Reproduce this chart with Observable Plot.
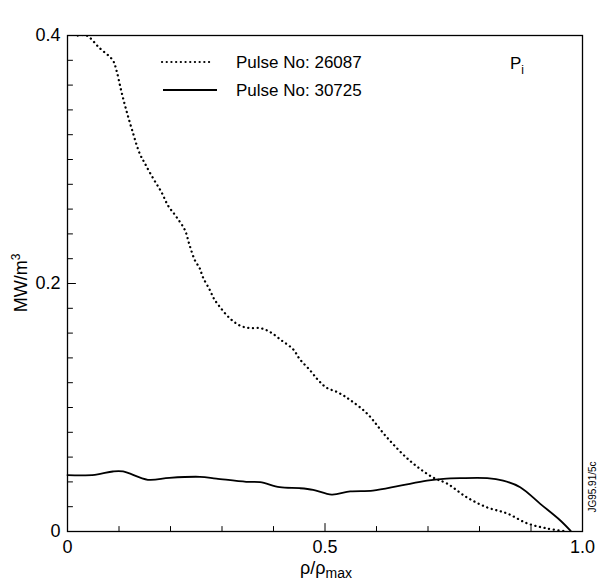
<!DOCTYPE html>
<html>
<head>
<meta charset="utf-8">
<script src="https://cdn.jsdelivr.net/npm/d3@7"></script>
<script src="https://cdn.jsdelivr.net/npm/@observablehq/plot@0.6"></script>
<style>
  html, body { margin: 0; padding: 0; background: #fff; }
  #chart svg { display: block; }
</style>
</head>
<body>
<div id="chart"></div>
<script>
// Pulse No: 26087 (dotted)
const pulse26087X = [0.02, 0.037, 0.062, 0.088, 0.095, 0.104, 0.114, 0.126, 0.140, 0.150, 0.166, 0.182, 0.195, 0.211, 0.228, 0.237, 0.247, 0.257, 0.263, 0.276, 0.284, 0.296, 0.315, 0.335, 0.354, 0.374, 0.393, 0.416, 0.438, 0.451, 0.471, 0.487, 0.503, 0.526, 0.549, 0.582, 0.620, 0.665, 0.710, 0.737, 0.776, 0.815, 0.854, 0.893, 0.932, 0.970];
const pulse26087Y = [0.400, 0.400, 0.390, 0.380, 0.372, 0.356, 0.340, 0.323, 0.305, 0.297, 0.285, 0.274, 0.263, 0.254, 0.243, 0.231, 0.219, 0.212, 0.205, 0.195, 0.188, 0.181, 0.172, 0.166, 0.164, 0.164, 0.161, 0.154, 0.147, 0.139, 0.130, 0.122, 0.116, 0.112, 0.106, 0.095, 0.076, 0.057, 0.0435, 0.0387, 0.0274, 0.0194, 0.0145, 0.0065, 0.0024, 0.0];
// Pulse No: 30725 (solid)
const pulse30725X = [0.0, 0.053, 0.088, 0.108, 0.156, 0.198, 0.257, 0.289, 0.347, 0.374, 0.412, 0.451, 0.477, 0.513, 0.549, 0.593, 0.646, 0.698, 0.730, 0.763, 0.815, 0.846, 0.879, 0.918, 0.957, 0.977];
const pulse30725Y = [0.0455, 0.0457, 0.0484, 0.0484, 0.0417, 0.0433, 0.0441, 0.0427, 0.0401, 0.0398, 0.0357, 0.0349, 0.0336, 0.0298, 0.0323, 0.0330, 0.0370, 0.0410, 0.0425, 0.0430, 0.0430, 0.0410, 0.0357, 0.0223, 0.0089, 0.0005];

const xTickValues = [0, 0.5, 1.0];
const xTickLabels = ["0", "0.5", "1.0"];
const yTickValues = [0, 0.2, 0.4];
const yTickLabels = ["0", "0.2", "0.4"];
const xMinorTicks = [0.1, 0.2, 0.3, 0.4, 0.6, 0.7, 0.8, 0.9];
const yMinorTicks = [0.02, 0.04, 0.06, 0.08, 0.10, 0.12, 0.14, 0.16, 0.18, 0.22, 0.24, 0.26, 0.28, 0.30, 0.32, 0.34, 0.36, 0.38];

const legendLabels = ["Pulse No: 26087", "Pulse No: 30725"];

const dotted = pulse26087X.map((x, i) => ({x, y: pulse26087Y[i]}));
const solid = pulse30725X.map((x, i) => ({x, y: pulse30725Y[i]}));

const FONT = "'Liberation Sans', Arial, Helvetica, sans-serif";
const DOTS = "0.1 4.6";

// inward tick shape: a plain stroke of the vector's length
const tickShape = {draw(context, l) { context.moveTo(0, 0); context.lineTo(0, -l); }};

const chart = Plot.plot({
  width: 600,
  height: 585,
  marginLeft: 67,
  marginRight: 18,
  marginTop: 35,
  marginBottom: 54,
  x: {domain: [0, 1]},
  y: {domain: [0, 0.4]},
  style: {fontFamily: FONT, fontSize: "18px", background: "#fff", color: "#000"},
  marks: [
    Plot.vector(xMinorTicks, {x: d => d, frameAnchor: "bottom", length: 5, rotate: 0, anchor: "start", shape: tickShape, stroke: "#000", strokeWidth: 1}),
    Plot.vector(xTickValues, {x: d => d, frameAnchor: "bottom", length: 8, rotate: 0, anchor: "start", shape: tickShape, stroke: "#000", strokeWidth: 1}),
    Plot.vector(yMinorTicks, {y: d => d, frameAnchor: "left", length: 5, rotate: 90, anchor: "start", shape: tickShape, stroke: "#000", strokeWidth: 1}),
    Plot.vector(yTickValues, {y: d => d, frameAnchor: "left", length: 8, rotate: 90, anchor: "start", shape: tickShape, stroke: "#000", strokeWidth: 1}),
    Plot.axisX(xTickValues, {tickSize: 0, tickPadding: 9, tickFormat: (d, i) => xTickLabels[i], label: null, fontSize: 18, fill: "#000"}),
    Plot.axisY(yTickValues, {tickSize: 0, tickPadding: 7, tickFormat: (d, i) => yTickLabels[i], label: null, fontSize: 18, fill: "#000"}),
    Plot.frame({stroke: "#000", strokeWidth: 1.3}),
    Plot.line(dotted, {x: "x", y: "y", stroke: "#000", strokeWidth: 2.3, strokeDasharray: DOTS, strokeLinecap: "round", curve: "catmull-rom", clip: true}),
    Plot.line(solid, {x: "x", y: "y", stroke: "#000", strokeWidth: 1.8, curve: "catmull-rom"})
  ]
});

document.getElementById("chart").appendChild(chart);

// Annotations: legend, panel label, axis labels, figure code
const svg = d3.select(chart);
const g = svg.append("g").attr("font-family", FONT).attr("fill", "#000").attr("text-anchor", "start");

g.append("line").attr("x1", 162).attr("x2", 213).attr("y1", 62).attr("y2", 62)
  .attr("stroke", "#000").attr("stroke-width", 2.2).attr("stroke-dasharray", DOTS).attr("stroke-linecap", "round");
g.append("text").attr("x", 236).attr("y", 62).attr("dy", "0.35em").attr("text-anchor", "start").attr("font-size", 17).text(legendLabels[0]);
g.append("line").attr("x1", 163).attr("x2", 217).attr("y1", 90).attr("y2", 90)
  .attr("stroke", "#000").attr("stroke-width", 1.8);
g.append("text").attr("x", 236).attr("y", 90).attr("dy", "0.35em").attr("text-anchor", "start").attr("font-size", 17).text(legendLabels[1]);

const pi = g.append("text").attr("x", 510).attr("y", 69).attr("text-anchor", "start").attr("font-size", 17);
pi.append("tspan").text("P");
pi.append("tspan").attr("dy", 5).attr("font-size", 12).text("i");

const yl = g.append("text").attr("transform", "translate(27,283) rotate(-90)").attr("text-anchor", "middle").attr("font-size", 18);
yl.append("tspan").text("MW/m");
yl.append("tspan").attr("dy", -7).attr("font-size", 12).text("3");

const xl = g.append("text").attr("x", 326).attr("y", 574).attr("text-anchor", "middle").attr("font-size", 18);
xl.append("tspan").text("ρ/ρ");
xl.append("tspan").attr("dy", 4).attr("font-size", 14).text("max");

g.append("text").attr("transform", "translate(596,487) rotate(-90)").attr("text-anchor", "middle")
  .attr("font-size", 10).text("JG95.91/5c");
</script>
</body>
</html>
